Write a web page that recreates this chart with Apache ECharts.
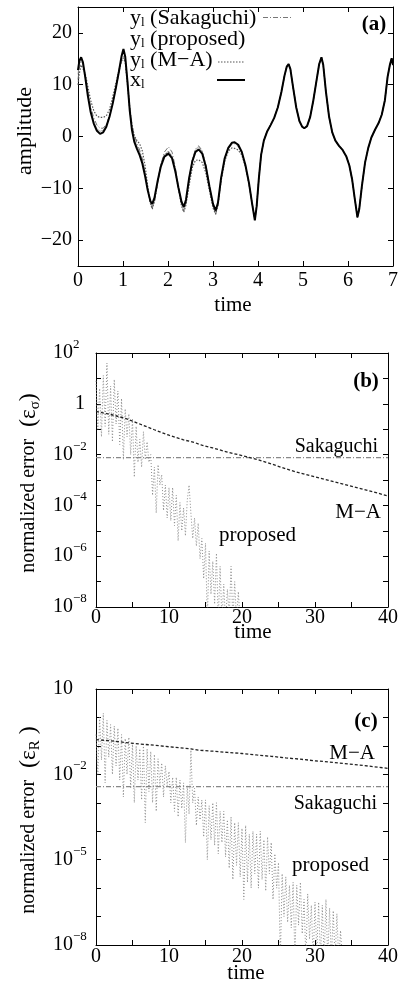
<!DOCTYPE html>
<html><head><meta charset="utf-8">
<script src="https://cdn.jsdelivr.net/npm/echarts@6/dist/echarts.min.js"></script>
<style>html,body{margin:0;padding:0;background:#fff}#c{width:401px;height:991px}</style>
</head><body><div id="c"></div>
<script>
// ---------- Panel (a) : amplitude vs time ----------
const timeA = [0.00,0.03,0.07,0.11,0.16,0.22,0.28,0.35,0.42,0.49,
  0.56,0.63,0.70,0.77,0.84,0.91,0.97,1.01,1.05,1.10,
  1.15,1.20,1.25,1.31,1.37,1.43,1.49,1.55,1.61,1.65,
  1.70,1.77,1.84,1.92,2.01,2.09,2.16,2.23,2.30,2.35,
  2.40,2.47,2.54,2.61,2.68,2.76,2.84,2.92,3.00,3.06,
  3.11,3.18,3.26,3.34,3.42,3.48,3.56,3.64,3.72,3.80,
  3.87,3.93,
  3.97,4.02,4.07,4.13,4.20,4.28,4.36,4.44,4.52,4.59,4.64,4.68,4.72,4.78,4.85,4.92,4.98,5.03,
  5.09,5.16,5.23,5.30,5.36,5.41,5.45,5.51,5.58,5.65,5.72,5.80,5.88,5.96,6.03,6.09,6.15,6.21,
  6.25,6.31,6.38,6.45,6.52,6.60,6.68,6.75,6.82,6.88,6.93,6.97,7.00];
const xlA = [12.8,14.6,15.3,14.3,11.5,7.8,4.8,2.5,1.1,0.5,
  0.8,1.9,3.8,6.3,9.3,12.6,15.6,16.9,15.4,10.5,
  5.0,1.2,-1.0,-2.4,-3.6,-5.2,-7.6,-10.4,-12.5,-13.0,
  -11.8,-8.6,-5.8,-3.9,-3.3,-4.2,-6.6,-9.8,-12.6,-13.6,
  -12.2,-8.0,-4.8,-3.0,-2.5,-3.3,-5.8,-9.6,-13.0,-14.3,
  -12.8,-8.0,-4.2,-2.2,-1.2,-1.1,-1.6,-3.0,-5.5,-9.0,
  -13.0,-16.2,
  -13.5,-8.0,-3.5,-0.8,0.9,2.2,3.6,5.6,8.6,11.8,13.5,14.0,13.0,9.5,5.6,3.0,1.9,1.6,
  2.0,3.8,7.0,10.8,14.0,15.3,13.8,8.6,3.8,0.8,-0.8,-1.8,-2.6,-3.8,-5.6,-8.2,-12.0,-15.6,
  -14.0,-9.5,-5.0,-2.2,-0.2,1.3,2.6,4.2,7.0,11.5,13.8,15.1,13.8];
// responses before synchronisation (t < 3.95); afterwards they coincide with x_l
const sakEarlyA = [11.0,13.2,14.5,14.0,11.8,8.6,5.8,3.6,2.2,1.6,
  1.6,2.4,4.0,6.4,9.3,12.4,14.8,15.5,14.6,10.8,
  6.0,2.4,0.2,-1.3,-2.6,-4.3,-7.0,-10.2,-12.9,-13.8,
  -12.6,-9.0,-5.5,-3.0,-2.0,-3.0,-5.8,-9.6,-13.0,-14.4,
  -13.0,-8.4,-4.6,-2.4,-1.8,-2.7,-5.4,-9.6,-13.5,-15.0,
  -13.4,-8.4,-4.4,-2.4,-1.5,-1.4,-1.9,-3.2,-5.6,-9.1,
  -13.0,-16.0];
const propEarlyA = [12.0,14.2,15.0,14.2,11.6,8.0,5.0,2.8,1.5,1.0,
  1.2,2.2,4.0,6.4,9.3,12.5,15.4,16.6,15.2,10.6,
  5.2,1.5,-0.6,-1.9,-3.0,-4.6,-7.2,-10.3,-12.8,-13.6,
  -12.2,-8.8,-5.8,-3.6,-2.8,-3.8,-6.4,-9.8,-12.8,-13.8,
  -12.4,-8.0,-4.6,-2.6,-2.0,-2.9,-5.5,-9.6,-13.2,-14.6,
  -13.0,-8.0,-4.2,-2.2,-1.2,-1.1,-1.6,-3.0,-5.5,-9.0,
  -13.0,-16.1];
const maEarlyA = [10.0,12.2,13.8,13.8,12.2,9.6,7.0,5.0,3.9,3.7,
  3.7,4.0,5.2,7.6,10.2,12.8,14.6,15.2,14.2,10.0,
  5.2,2.0,0.2,-0.8,-1.4,-2.8,-5.6,-9.6,-13.0,-14.0,
  -12.4,-8.8,-5.6,-3.6,-3.0,-4.0,-6.6,-10.0,-13.4,-14.6,
  -13.2,-9.4,-6.0,-4.6,-4.5,-5.0,-7.0,-10.4,-13.8,-15.0,
  -13.2,-8.6,-4.8,-2.8,-2.2,-2.3,-2.6,-3.6,-5.8,-9.2,
  -13.0,-16.0];
const yTicksA = [-20,-10,0,10,20];

// ---------- Panel (b) : normalized error eps_sigma ----------
const propB = [[0,8],[0.25,0.1],[0.5,4],[0.75,0.05],[1,13],[1.25,0.13],[1.5,40],[1.75,0.063],[2,5],[2.25,0.032],
 [2.5,9],[2.75,0.16],[3,3.2],[3.25,0.025],[3.5,1.6],[3.75,0.0063],[4,0.63],[4.25,0.05],[4.5,0.4],[4.75,0.01],
 [5,0.25],[5.25,0.0013],[5.5,0.13],[5.75,0.005],[6,0.04],[6.25,0.0032],[6.5,0.08],[6.75,0.0063],[7,0.032],[7.25,0.005],
 [7.5,0.01],[7.75,2.5e-4],[8,3.2e-3],[8.25,5e-5],[8.5,4e-3],[8.75,6.3e-4],[9,1.6e-3],[9.25,6.3e-5],[9.5,6.3e-4],[9.75,3.2e-5],
 [10,5e-4],[10.25,2.5e-5],[10.5,5e-4],[10.75,1.6e-5],[11,2.5e-4],[11.25,4e-6],[11.5,1.3e-4],[11.75,1e-5],[12,8e-5],[12.25,6.3e-6],
 [12.5,1.6e-4],[12.75,6.3e-4],[13,5e-5],[13.25,5e-6],[13.5,3.2e-5],[13.75,2.5e-6],[14,2e-5],[14.25,8e-7],[14.5,5e-6],[14.75,1.3e-7],
 [15,3.2e-6],[15.25,3e-9],[15.5,1.6e-6],[15.75,3.2e-8],[16,6.3e-7],[16.25,1.3e-8],[16.5,1.3e-6],[16.75,3e-9],[17,4e-7],[17.25,3e-9],
 [17.5,8e-8],[17.75,2.5e-9],[18,5e-8],[18.25,4e-9],[18.5,4e-7],[18.75,3e-9],[19,1e-7],[19.25,3e-9],[19.5,4e-8],[19.75,2.5e-9]];
const maB = [[0,0.50],[2,0.38],[4,0.27],[6,0.16],[8,0.095],[10,0.058],[12,0.038],[13.5,0.030],[14.5,0.0234],[16,0.0182],
 [18,0.0126],[20,0.0091],[22,0.0065],[24,0.0043],[26,0.00275],[28,0.00186],[30,0.00132],[32,0.00095],[34,0.00068],[36,0.00048],
 [38,0.00034],[40,0.000234]];
const sakB = [[0,0.0076],[40,0.0076]];
const yTicksB = [1e-8,1e-7,1e-6,1e-5,1e-4,1e-3,1e-2,1e-1,1,10,100];
const yLabelsB = [1e-8,1e-6,1e-4,1e-2,1,100];

// ---------- Panel (c) : normalized error eps_R ----------
const propC = [[0,0.25],[0.25,1e-2],[0.5,1],[0.75,3.2e-2],[1,1.4],[1.25,5e-3],[1.5,0.79],[1.75,4e-2],[2,0.56],[2.25,1e-2],
 [2.5,0.5],[2.75,2e-2],[3,0.42],[3.25,6.3e-3],[3.5,0.25],[3.75,1.6e-3],[4,0.18],[4.25,1e-2],[4.5,0.2],[4.75,3.2e-3],
 [5,0.126],[5.25,1e-3],[5.5,0.1],[5.75,6.3e-3],[6,7.9e-2],[6.25,1.26e-3],[6.5,0.126],[6.75,2e-4],[7,7.9e-2],[7.25,2.5e-3],
 [7.5,6.3e-2],[7.75,1e-3],[8,5e-2],[8.25,5e-4],[8.5,3.5e-2],[8.75,4e-3],[9,2.5e-2],[9.25,1.6e-3],[9.5,2e-2],[9.75,4e-3],
 [10,1.26e-2],[10.25,1e-3],[10.5,7.9e-3],[10.75,5e-4],[11,7.9e-3],[11.25,3.2e-4],[11.5,6.3e-3],[11.75,6.3e-4],[12,5e-3],[12.25,4e-5],
 [12.5,4e-3],[12.75,4e-4],[13,7.1e-2],[13.25,1e-3],[13.5,3.2e-3],[13.75,1.6e-4],[14,1.6e-3],[14.25,2.5e-4],[14.5,1.26e-3],[14.75,6.3e-5],
 [15,1.26e-3],[15.25,1e-5],[15.5,7.9e-4],[15.75,5e-5],[16,1e-3],[16.25,3.2e-5],[16.5,1e-3],[16.75,1.6e-5],[17,5e-4],[17.25,4e-5],
 [17.5,5e-4],[17.75,1.26e-5],[18,2.5e-4],[18.25,5e-6],[18.5,3.2e-4],[18.75,2e-6],[19,2e-4],[19.25,6.3e-6],[19.5,2e-4],[19.75,2.5e-6],
 [20,1.26e-4],[20.25,4e-7],[20.5,1.6e-4],[20.75,1.6e-6],[21,7.9e-5],[21.25,1e-6],[21.5,1e-4],[21.75,3.2e-6],[22,7.9e-5],[22.25,1e-6],
 [22.5,1e-4],[22.75,2e-6],[23,5e-5],[23.25,7.9e-7],[23.5,6.3e-5],[23.75,3.2e-6],[24,4e-5],[24.25,4e-7],[24.5,1.6e-5],[24.75,1e-6],
 [25,7.9e-6],[25.25,3e-9],[25.5,3.2e-6],[25.75,1e-7],[26,2.5e-6],[26.25,6.3e-8],[26.5,1.26e-6],[26.75,4e-8],[27,1.6e-6],[27.25,3e-9],
 [27.5,1.26e-6],[27.75,5e-8],[28,1.6e-6],[28.25,2.5e-8],[28.5,4e-7],[28.75,3e-9],[29,6.3e-7],[29.25,1.6e-8],[29.5,2.5e-7],[29.75,3e-9],
 [30,3.2e-7],[30.25,5e-9],[30.5,3.2e-7],[30.75,3e-9],[31,2.5e-7],[31.25,3e-9],[31.5,4e-7],[31.75,3e-9],[32,2e-7],[32.25,3e-9],
 [32.5,1.6e-7],[32.75,3e-9],[33,1.26e-7],[33.25,3e-9],[33.5,3.2e-8],[33.75,2.5e-9]];
const maC = [[0,0.166],[2,0.151],[4,0.132],[6,0.117],[8,0.105],[10,0.093],[12,0.083],[13,0.079],[14,0.071],[16,0.065],
 [18,0.059],[20,0.054],[22,0.048],[24,0.043],[26,0.038],[28,0.034],[30,0.030],[32,0.027],[34,0.024],[36,0.0214],
 [38,0.0186],[40,0.0162]];
const sakC = [[0,0.0037],[40,0.0037]];
const yTicksC = [1e-8,1e-7,1e-6,1e-5,1e-4,1e-3,1e-2,1e-1,1,10];
const yLabelsC = [1e-8,1e-5,1e-2,10];
const xLabelsBC = [0,10,20,30,40];

// ---------- build ----------
const FF = '"Liberation Serif", "Times New Roman", serif';
function pairs(t, v){ return t.map((x,i)=>[x, v[i]]); }
function joinTail(early){ return early.concat(xlA.slice(early.length)); }

const tickSty = {inside:true, length:5, lineStyle:{color:'#000', width:1}};
const lineSty = {show:true, onZero:false, lineStyle:{color:'#000', width:1}};
const lblSty = {fontFamily:FF, fontSize:20, color:'#000'};
const richLog = {
  b:{fontFamily:FF, fontSize:20, lineHeight:20, color:'#000'},
  s:{fontFamily:FF, fontSize:13, lineHeight:13, padding:[0,0,17,0], color:'#000'},
  one:{fontFamily:FF, fontSize:20, lineHeight:20, padding:[0,0,0,22], color:'#000'}
};
function logLabel(v){
  const e = Math.round(Math.log10(v));
  if (e === 0) return '{one|1}';
  if (e === 1) return '{b|10}';
  return '{b|10}{s|' + (e < 0 ? '\u2212' : '') + Math.abs(e) + '}';
}
function minusFmt(v){ return v < 0 ? '\u2212' + (-v) : String(v); }

function xPair(g, max, interval, labelOpt){
  return [
    {gridIndex:g, type:'value', min:0, max:max, interval:interval, position:'bottom',
     axisLine:lineSty, axisTick:tickSty, splitLine:{show:false}, axisLabel:Object.assign({}, lblSty, labelOpt)},
    {gridIndex:g, type:'value', min:0, max:max, interval:interval, position:'top',
     axisLine:lineSty, axisTick:tickSty, splitLine:{show:false}, axisLabel:{show:false}}
  ];
}
function yLogPair(g, min, max, ticks, labels){
  return [
    {gridIndex:g, type:'log', logBase:10, min:min, max:max, position:'left', axisLine:lineSty,
     axisTick:Object.assign({customValues:ticks}, tickSty), splitLine:{show:false}, minorTick:{show:false},
     axisLabel:{customValues:labels, formatter:logLabel, align:'left', margin:43, rich:richLog}},
    {gridIndex:g, type:'log', logBase:10, min:min, max:max, position:'right', axisLine:lineSty,
     axisTick:Object.assign({customValues:ticks}, tickSty), splitLine:{show:false}, axisLabel:{show:false}}
  ];
}

const xAxis = [].concat(
  xPair(0, 7, 1, {margin:5}),
  xPair(1, 40, 5, {margin:1, customValues:xLabelsBC}),
  xPair(2, 40, 5, {margin:2, customValues:xLabelsBC})
);
const yAxis = [
  {gridIndex:0, type:'value', min:-25, max:25, position:'left', axisLine:lineSty,
   axisTick:Object.assign({customValues:yTicksA}, tickSty), splitLine:{show:false},
   axisLabel:Object.assign({customValues:yTicksA, formatter:minusFmt, margin:6}, lblSty)},
  {gridIndex:0, type:'value', min:-25, max:25, position:'right', axisLine:lineSty,
   axisTick:Object.assign({customValues:yTicksA}, tickSty), splitLine:{show:false}, axisLabel:{show:false}}
].concat(yLogPair(1, 1e-8, 100, yTicksB, yLabelsB), yLogPair(2, 1e-8, 10, yTicksC, yLabelsC));

function ln(data, xi, color, width, type, z){
  return {type:'line', xAxisIndex:xi, yAxisIndex:xi, data:data, showSymbol:false, symbol:'none',
    lineStyle:{color:color, width:width, type:type}, z:z||2, silent:true, clip:true};
}
const dashDot = [5,2,1,2];
const series = [
  ln(pairs(timeA, joinTail(propEarlyA)), 0, '#aaa', 1, 'solid', 2),
  ln(pairs(timeA, joinTail(sakEarlyA)), 0, '#777', 1, dashDot, 3),
  ln(pairs(timeA, joinTail(maEarlyA)), 0, '#555', 1.2, [1.5,1.5], 4),
  ln(pairs(timeA, xlA), 0, '#000', 2, 'solid', 5),
  ln(propB, 2, '#8c8c8c', 1, [1,2], 2),
  ln(sakB, 2, '#888', 1.2, dashDot, 3),
  ln(maB, 2, '#222', 1.3, [3,2], 4),
  ln(propC, 4, '#8c8c8c', 1, [1,2], 2),
  ln(sakC, 4, '#888', 1.2, dashDot, 3),
  ln(maC, 4, '#222', 1.3, [3,2], 4)
];

const richT = {
  s:{fontFamily:FF, fontSize:13, padding:[10,0,0,0], fill:'#000'},
  b:{fontFamily:FF, fontSize:20, fill:'#000'},
  g:{fontFamily:FF, fontSize:24, fill:'#000'},
  e:{fontFamily:FF, fontSize:23, fill:'#000'},
  ss:{fontFamily:FF, fontSize:15, padding:[12,0,0,0], fill:'#000'}
};
function txt(s, x, y, size, align, extra, weight){
  return Object.assign({type:'text', x:x, y:y, silent:true, z:100, style:{text:s, fontFamily:FF, fontSize:size,
    fontWeight:weight||'normal', fill:'#000', textAlign:align||'center', textVerticalAlign:'middle', rich:richT}}, extra||{});
}
function seg(x1, x2, y, color, w, dash){
  return {type:'line', silent:true, z:100, shape:{x1:x1, y1:y, x2:x2, y2:y}, style:{stroke:color, lineWidth:w, lineDash:dash}};
}
const rot = {rotation:Math.PI/2};
const graphic = [
  txt('amplitude', 25, 131, 22, 'center', rot),
  txt('{b|normalized error}{g|  (}{e|\u03b5}{ss|\u03c3}{g|)}', 29, 483, 20, 'center', rot),
  txt('{b|normalized error}{g|  (}{e|\u03b5}{ss|R}{g| )}', 29, 820, 20, 'center', rot),
  txt('time', 233, 305, 21), txt('time', 253, 632, 21), txt('time', 246, 973, 21),
  txt('(a)', 374, 25, 21, 'center', null, 'bold'),
  txt('(b)', 366, 382, 21, 'center', null, 'bold'),
  txt('(c)', 366, 722, 21, 'center', null, 'bold'),
  txt('Sakaguchi', 378, 447, 20, 'right'),
  txt('M\u2212A', 381, 512, 21, 'right'),
  txt('proposed', 219, 535, 21, 'left'),
  txt('M\u2212A', 375, 753, 21, 'right'),
  txt('Sakaguchi', 377, 804, 20, 'right'),
  txt('proposed', 292, 865, 21, 'left'),
  txt('y{s|l} (Sakaguchi)', 130, 18, 22, 'left'),
  txt('y{s|l} (proposed)', 130, 39, 22, 'left'),
  txt('y{s|l} (M\u2212A)', 130, 60, 22, 'left'),
  txt('x{s|l}', 130, 80, 22, 'left'),
  seg(263, 291, 17.5, '#777', 1, dashDot),
  seg(218, 245, 62, '#555', 1.2, [1.5,1.5]),
  seg(217, 245, 80, '#000', 2, null)
];

const chart = echarts.init(document.getElementById('c'), null, {renderer:'canvas'});
chart.setOption({
  animation:false,
  backgroundColor:'#fff',
  grid:[
    {left:78, top:7, width:321, height:259},
    {left:96, top:353, width:296, height:254},
    {left:96, top:689, width:296, height:256}
  ],
  xAxis:xAxis, yAxis:yAxis, series:series, graphic:graphic
});
</script></body></html>
